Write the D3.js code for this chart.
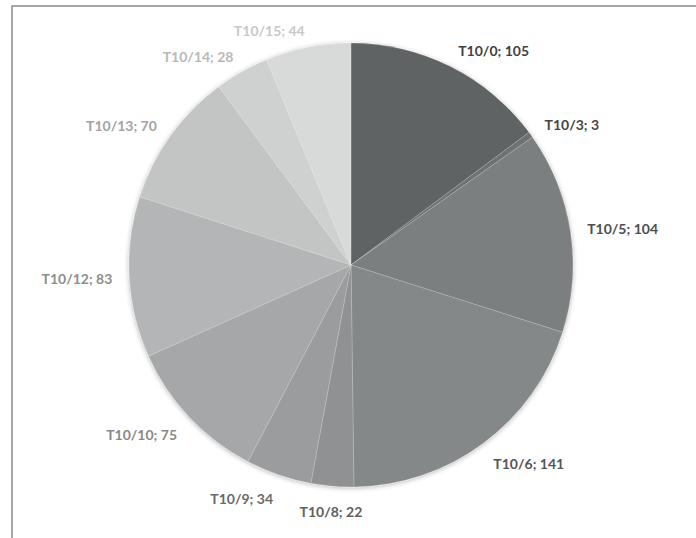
<!DOCTYPE html>
<html>
<head>
<meta charset="utf-8">
<script src="https://cdn.jsdelivr.net/npm/d3@7"></script>
<style>
  html, body { margin: 0; padding: 0; background: #fff; }
  svg { display: block; }
</style>
</head>
<body>
<svg id="chart" width="696" height="538"></svg>
<script>
// Category labels and counts, clockwise from 12 o'clock
const categories = ["T10/0", "T10/3", "T10/5", "T10/6", "T10/8", "T10/9", "T10/10", "T10/12", "T10/13", "T10/14", "T10/15"];
const counts = [105, 3, 104, 141, 22, 34, 75, 83, 70, 28, 44];

// Grey ramp for the slices and their labels
const sliceColors = ["#5e6363", "#6e7272", "#7c7f80", "#858889", "#8f9192", "#9a9c9d", "#a5a7a8", "#b3b5b6", "#c3c5c5", "#cfd0d0", "#d8d9d9"];
const labelColors = ["#3f3f3f", "#454545", "#4d4d4d", "#555555", "#606060", "#6a6a6a", "#888888", "#8d8d8d", "#a3a3a3", "#b8b8b8", "#c8c8c8"];

const svg = d3.select("#chart");
const W = 696, H = 538;
const cx = 351, cy = 265, radius = 222;

// Outer frame
svg.append("rect")
  .attr("x", 12).attr("y", 6)
  .attr("width", W).attr("height", H)
  .attr("fill", "none")
  .attr("stroke", "#8a8a8a")
  .attr("stroke-width", 1.5);

// Soft shadow round the pie
const defs = svg.append("defs");
const shadow = defs.append("filter").attr("id", "soft")
  .attr("x", "-10%").attr("y", "-10%").attr("width", "120%").attr("height", "120%");
shadow.append("feGaussianBlur").attr("in", "SourceAlpha").attr("stdDeviation", 2.5).attr("result", "b");
shadow.append("feOffset").attr("in", "b").attr("dx", 0).attr("dy", 1).attr("result", "o");
shadow.append("feComponentTransfer").attr("in", "o").attr("result", "s")
  .append("feFuncA").attr("type", "linear").attr("slope", 0.3);
const merge = shadow.append("feMerge");
merge.append("feMergeNode").attr("in", "s");
merge.append("feMergeNode").attr("in", "SourceGraphic");

const data = categories.map((c, i) => ({ name: c, value: counts[i], i }));

const pie = d3.pie().value(d => d.value).sort(null);
const arcs = pie(data);
const arc = d3.arc().innerRadius(0).outerRadius(radius);

const g = svg.append("g").attr("transform", `translate(${cx},${cy})`);

g.append("g").attr("filter", "url(#soft)")
  .selectAll("path")
  .data(arcs)
  .join("path")
  .attr("d", arc)
  .attr("fill", d => sliceColors[d.data.i])
  .attr("stroke", "#ffffff")
  .attr("stroke-opacity", 0.22)
  .attr("stroke-width", 0.8);

// Data labels placed just outside each slice
const labelR = radius + 17;
g.selectAll("text")
  .data(arcs)
  .join("text")
  .each(function (d) {
    const a = (d.startAngle + d.endAngle) / 2;
    const sx = Math.sin(a), sy = -Math.cos(a);
    const x = labelR * sx;
    const yc = labelR * sy + (sy > 0 ? 9 * sy : 0);
    const anchor = sx > 0.15 ? "start" : (sx < -0.15 ? "end" : "middle");
    d3.select(this)
      .attr("x", x)
      .attr("y", yc + 5)
      .attr("text-anchor", anchor);
  })
  .attr("font-family", "Lato, 'Open Sans', sans-serif")
  .attr("font-weight", "bold")
  .attr("font-size", 14)
  .attr("fill", d => labelColors[d.data.i])
  .text(d => `${d.data.name}; ${d.data.value}`);
</script>
</body>
</html>
